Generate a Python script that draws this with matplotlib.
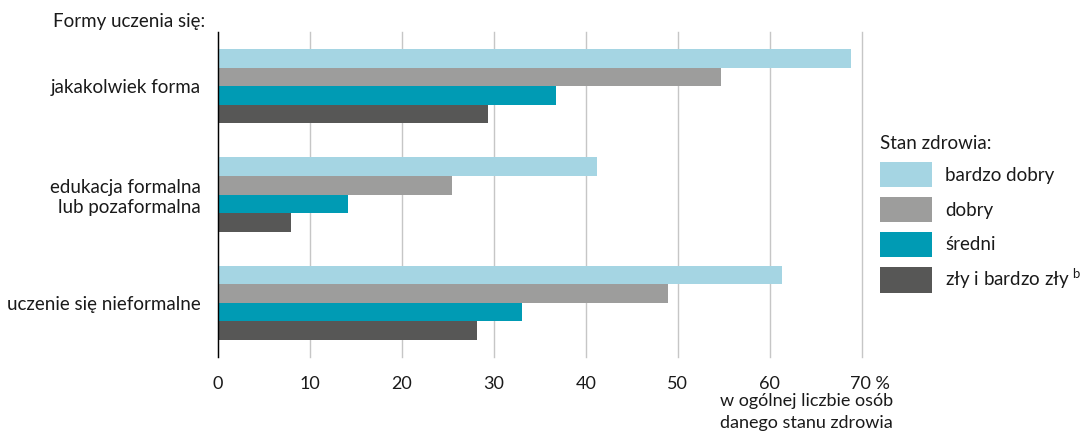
import numpy as np
import matplotlib
matplotlib.use('Agg')
import matplotlib.pyplot as plt
import matplotlib.transforms as mtransforms

plt.rcParams['font.family'] = ['Lato', 'DejaVu Sans']
plt.rcParams['mathtext.fontset'] = 'custom'
plt.rcParams['mathtext.rm'] = 'Lato'

# forms of learning (top to bottom)
categories = ['jakakolwiek forma', 'edukacja formalna\nlub pozaformalna', 'uczenie się nieformalne']
# health status series
series_names = ['bardzo dobry', 'dobry', 'średni', 'zły i bardzo zły $^{\\mathrm{b}}$']
bardzo_dobry = [68.8, 41.2, 61.3]
dobry = [54.7, 25.5, 48.9]
sredni = [36.8, 14.2, 33.1]
zly = [29.4, 8.0, 28.2]
xticks = [0, 10, 20, 30, 40, 50, 60, 70]
xticklabels = ['0', '10', '20', '30', '40', '50', '60', '70 %']

colors = ['#A5D5E3', '#9D9D9C', '#009BB4', '#575756']
txt = '#1a1a1a'

fig = plt.figure(figsize=(10.82, 4.34), dpi=100)
ax = fig.add_axes([217.5 / 1082, 1 - 357 / 434, (862 - 217.5) / 1082, (357 - 32) / 434])

y = np.arange(len(categories))
h = 0.171
vals = [bardzo_dobry, dobry, sredni, zly]
for i, v in enumerate(vals):
    ax.barh(y - 1.5 * h + i * h, v, height=h, color=colors[i], label=series_names[i], zorder=3)

ax.set_xlim(0, 70)
ax.set_ylim(2.5, -0.5)
ax.set_xticks(xticks)
ax.set_xticklabels(xticklabels, fontsize=13, color=txt)
ax.set_yticks(y)
ax.set_yticklabels(categories, fontsize=13.5, color=txt, ha='right')
ax.tick_params(axis='both', length=0)
ax.tick_params(axis='x', pad=14)
ax.tick_params(axis='y', pad=12)

# "70 %" sits with the number on the tick, the % sign hanging right
lbl = ax.get_xticklabels()[-1]
lbl.set_ha('left')
lbl.set_transform(lbl.get_transform() + mtransforms.ScaledTranslation(-12 / 100, 0, fig.dpi_scale_trans))

ax.grid(axis='x', color='#C6C6C6', linewidth=1, zorder=0)
for gl in ax.get_xgridlines():
    gl.set_clip_on(False)
for s in ['top', 'right', 'bottom']:
    ax.spines[s].set_visible(False)
ax.spines['left'].set_color('black')
ax.spines['left'].set_linewidth(1)
ax.spines['left'].set_zorder(4)

fig.text(205 / 1082, 1 - 22 / 434, 'Formy uczenia się:', ha='right', va='center', fontsize=13.5, color=txt)
fig.text(893 / 1082, 1 - 393 / 434, 'w ogólnej liczbie osób\ndanego stanu zdrowia', ha='right', va='top',
         fontsize=13, color=txt, linespacing=1.45)

leg = fig.legend(loc='upper left', bbox_to_anchor=(871 / 1082, 1 - 126 / 434), frameon=False,
                 title='Stan zdrowia:', title_fontsize=13.5, fontsize=13.5, alignment='left',
                 handlelength=2.75, handleheight=1.72, labelspacing=0.5, handletextpad=0.7, borderpad=0)
for t in leg.get_texts():
    t.set_color(txt)
leg.get_title().set_color(txt)

fig.savefig('out.png', dpi=100)
